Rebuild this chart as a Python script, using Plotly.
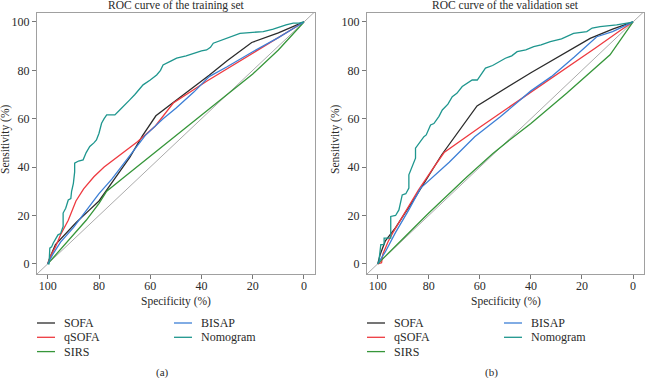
import plotly.graph_objects as go

# ---------------- data ----------------
series_names = ["SOFA", "qSOFA", "SIRS", "BISAP", "Nomogram"]
series_colors = ["#2b2b2b", "#ee3a40", "#36963a", "#3d7fd6", "#1e968e"]

# training set (specificity %, sensitivity %)
tr_sofa_spec = [100, 99, 97, 94, 89, 84, 80, 74, 68, 63, 57.8, 50, 43, 37, 30, 20.4, 10, 0]
tr_sofa_sens = [0, 3, 8, 11.5, 17, 22, 26, 35, 44, 53, 61.2, 67.5, 73, 78, 84, 91.5, 95.5, 100]

tr_qsofa_spec = [100, 99, 97, 95, 92, 89, 86, 82, 78, 72, 65, 58, 51, 38, 20, 0]
tr_qsofa_sens = [0, 3, 7, 12, 18, 26, 31, 36, 40, 45, 50.5, 57, 66.5, 75.5, 87, 100]

tr_sirs_spec = [100, 95, 90, 85, 80, 77, 70, 60, 50, 40, 30, 20, 10, 0]
tr_sirs_sens = [0, 6, 12, 18, 25, 30, 36, 44.5, 53, 61.5, 70, 78.5, 88.4, 100]

tr_bisap_spec = [100, 98, 95, 90, 85, 80, 75, 70, 62, 55, 50, 43, 37, 30, 20, 10, 0]
tr_bisap_sens = [0, 4, 9, 15, 22, 29, 35, 42, 53, 60, 64.3, 71, 77.4, 81.5, 87.7, 93.5, 100]

tr_nomo_spec = [100, 99.5, 99.2, 98.5, 97.9, 97, 96, 95, 94, 94, 93, 92, 91, 90.7, 90, 89.5, 89.5,
                88, 86.2, 85, 83.6, 82, 81, 80, 79, 78, 77, 75, 73.8, 72, 70, 68, 66, 64.5, 62.8,
                60, 57.5, 56, 55, 52, 49.7, 46, 43.2, 40, 38, 36.5, 35.4, 32, 28.9, 25, 20, 15.9,
                12, 9.4, 7, 4.2, 2, 0]
tr_nomo_sens = [0, 0, 6.5, 7, 8.5, 10, 12, 12.5, 15.4, 21, 23, 26.4, 27, 30, 33.3, 38, 41.6,
                42.5, 43, 46, 48.5, 50, 51.2, 54, 58.1, 60, 61.6, 61.6, 61.6, 63.5, 65.5, 67.8, 70,
                72, 74, 76, 78.1, 80, 82.2, 83.8, 85, 86, 87, 88, 88.4, 89.5, 91.2, 92.5, 93.9, 95.3,
                95.7, 96, 97, 98.1, 98.8, 99.5, 99.5, 100]

# validation set
va_sofa_spec = [100, 99, 97, 93, 85, 75, 61.1, 40, 16.8, 8, 0]
va_sofa_sens = [0, 4, 9.5, 15, 28, 45, 65.3, 79, 93.2, 97, 100]

va_qsofa_spec = [100, 98.5, 98, 96, 94, 90, 84, 78, 74, 60, 44, 30, 15, 5, 0]
va_qsofa_sens = [0, 0.5, 4, 9, 13, 20, 30.6, 40, 46, 56.5, 68, 78, 89, 96.5, 100]

va_sirs_spec = [100, 90, 80, 65, 55, 48, 40, 26, 9, 0]
va_sirs_sens = [0, 10.5, 21, 36, 45.5, 51.5, 58, 70.5, 86.4, 100]

va_bisap_spec = [100, 97, 93, 88, 83.2, 72, 62, 52, 40, 32, 23, 14.2, 8, 0]
va_bisap_sens = [0, 5, 13, 22, 31.3, 42, 52.5, 60.8, 71.5, 77.4, 85.5, 93.9, 96, 100]

va_nomo_spec = [100, 99.6, 98.8, 97.5, 97.5, 96, 94.9, 94.9, 93, 91.7, 90.4, 89, 87.8, 87.8, 86.5,
                85.2, 85.2, 83.2, 81.9, 81, 79.3, 78, 76, 74.7, 72.5, 70.8, 69, 66.9, 65, 63, 61,
                59.5, 57.8, 55, 52.6, 50, 47.5, 45.4, 42, 38.9, 36, 32.4, 28, 23.3, 18.1, 16, 12.9,
                6.4, 1.2, 0]
va_nomo_sens = [0, 0.5, 7.9, 8, 10.6, 10.6, 10.6, 19.6, 20, 22.3, 28.5, 29, 31.3, 36.8, 40,
                43.7, 47.8, 50.5, 52.6, 53.3, 57.4, 58, 61, 63.6, 66, 69.1, 70.5, 73.3, 74.5, 76, 76,
                78.5, 80.9, 82, 83.6, 85, 86, 87.7, 88.5, 89.8, 90.5, 91.9, 93, 95.3, 96, 97.5, 98.1,
                98.8, 99.7, 100]

diag_x = [110, -10]
diag_y = [-10, 110]

x_ticks = [100, 80, 60, 40, 20, 0]
y_ticks = [0, 20, 40, 60, 80, 100]

panel_titles = ["ROC curve of the training set", "ROC curve of the validation set"]
panel_captions = ["(a)", "(b)"]
x_title = "Specificity (%)"
y_title = "Sensitivity (%)"

train = [(tr_sofa_spec, tr_sofa_sens), (tr_qsofa_spec, tr_qsofa_sens), (tr_sirs_spec, tr_sirs_sens),
         (tr_bisap_spec, tr_bisap_sens), (tr_nomo_spec, tr_nomo_sens)]
valid = [(va_sofa_spec, va_sofa_sens), (va_qsofa_spec, va_qsofa_sens), (va_sirs_spec, va_sirs_sens),
         (va_bisap_spec, va_bisap_sens), (va_nomo_spec, va_nomo_sens)]

# ---------------- layout helpers ----------------
W, H = 645, 378
FONT = "Liberation Serif"
TXT = "#2a2a2a"


def fx(p):
    return p / W


def fy(p):
    return 1 - p / H


panels = [
    dict(left=37, right=315, data=train, xa="x", ya="y", xk="xaxis", yk="yaxis"),
    dict(left=367, right=644, data=valid, xa="x2", ya="y2", xk="xaxis2", yk="yaxis2"),
]
top, bottom = 13, 274

fig = go.Figure()
annotations = []
shapes = []
layout_axes = {}

for i, p in enumerate(panels):
    fig.add_trace(go.Scatter(x=diag_x, y=diag_y, mode="lines", xaxis=p["xa"], yaxis=p["ya"],
                             line=dict(color="#ababab", width=1), showlegend=False, hoverinfo="skip"))
    for (sx, sy), name, col in zip(p["data"], series_names, series_colors):
        fig.add_trace(go.Scatter(x=sx, y=sy, mode="lines", name=name, xaxis=p["xa"], yaxis=p["ya"],
                                 line=dict(color=col, width=1.3), showlegend=False))

    layout_axes[p["xk"]] = dict(
        domain=[fx(p["left"]), fx(p["right"])], range=[104.2, -4.3], anchor=p["ya"],
        tickvals=x_ticks, ticks="outside", ticklen=4, tickcolor="#777", tickwidth=1,
        ticklabelstandoff=-3,
        showline=True, linecolor="#a0a0a0", linewidth=1, mirror=True,
        showgrid=False, zeroline=False, tickfont=dict(family=FONT, size=12, color=TXT))
    layout_axes[p["yk"]] = dict(
        domain=[fy(bottom), fy(top)], range=[-4.2, 103.7], anchor=p["xa"],
        tickvals=y_ticks, ticks="outside", ticklen=4, tickcolor="#777", tickwidth=1,
        showline=True, linecolor="#a0a0a0", linewidth=1, mirror=True,
        showgrid=False, zeroline=False, tickfont=dict(family=FONT, size=12, color=TXT))

    cx = (p["left"] + p["right"]) / 2
    annotations.append(dict(text=panel_titles[i], x=fx(cx), y=fy(5), xref="paper", yref="paper",
                            showarrow=False, xanchor="center", yanchor="middle",
                            font=dict(family=FONT, size=11.5, color=TXT)))
    annotations.append(dict(text=x_title, x=fx(cx), y=fy(301), xref="paper", yref="paper",
                            showarrow=False, xanchor="center", yanchor="middle",
                            font=dict(family=FONT, size=11.5, color=TXT)))
    annotations.append(dict(text=y_title, x=fx(p["left"] - 32), y=fy(140), xref="paper", yref="paper",
                            showarrow=False, xanchor="center", yanchor="middle", textangle=-90,
                            font=dict(family=FONT, size=11.5, color=TXT)))
    annotations.append(dict(text=panel_captions[i], x=fx(cx - 14), y=fy(372), xref="paper", yref="paper",
                            showarrow=False, xanchor="center", yanchor="middle",
                            font=dict(family=FONT, size=11, color=TXT)))

    # legend (two columns)
    slots = [(0, 0), (0, 1), (0, 2), (1, 0), (1, 1)]
    for (col, row), name, color in zip(slots, series_names, series_colors):
        lx0 = p["left"] + (0 if col == 0 else 137)
        ly = 323 + row * 14.3
        shapes.append(dict(type="line", xref="paper", yref="paper",
                           x0=fx(lx0), x1=fx(lx0 + 18), y0=fy(ly), y1=fy(ly),
                           line=dict(color=color, width=1.3)))
        annotations.append(dict(text=name, x=fx(lx0 + 25), y=fy(ly), xref="paper", yref="paper",
                                showarrow=False, xanchor="left", yanchor="middle",
                                font=dict(family=FONT, size=12, color=TXT)))

fig.update_layout(
    width=W, height=H, margin=dict(l=0, r=0, t=0, b=0),
    paper_bgcolor="white", plot_bgcolor="white",
    annotations=annotations, shapes=shapes, showlegend=False,
    **layout_axes,
)

fig.write_html(
    "out.html",
    config={"displayModeBar": False},
    post_script="document.body.style.margin='0';document.body.style.overflow='hidden';",
)
